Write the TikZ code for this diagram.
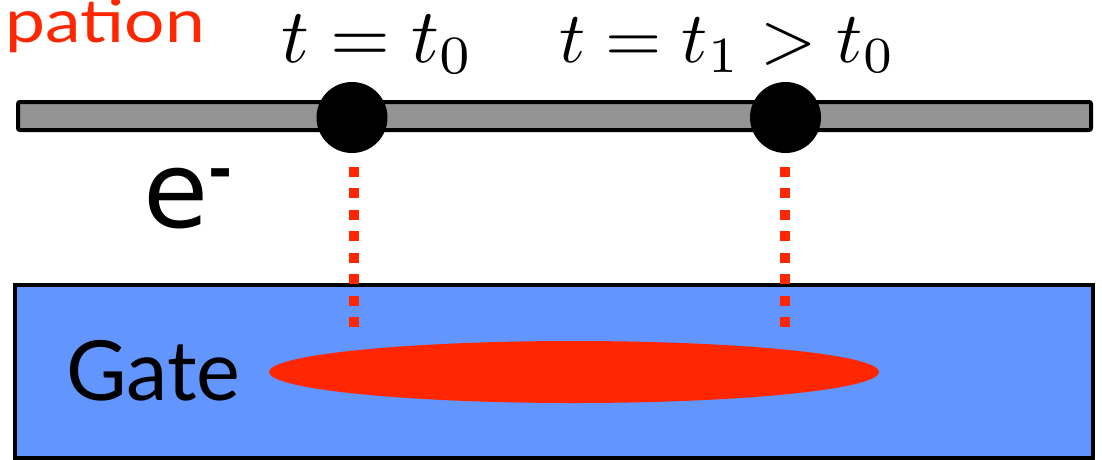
\documentclass[tikz,border=0pt]{standalone}
\usepackage{fontspec}
\setsansfont{Lato}
\newfontfamily\dejavu{DejaVu Sans}
\newfontfamily\dejavub{DejaVu Sans Bold}
\definecolor{hotred}{RGB}{255,38,0}
\definecolor{gatecol}{RGB}{98,149,254}
\definecolor{barcol}{RGB}{147,147,147}
\usetikzlibrary{shapes.geometric}
\tikzset{
  bar/.style={fill=barcol,draw=black,line width=4pt,rounded corners=2pt},
  electron/.style={circle,fill=black,minimum size=71pt,inner sep=0pt},
  dots/.style={draw=hotred,line width=10pt,dash pattern=on 10pt off 11.43pt},
  gatebox/.style={fill=gatecol,draw=black,line width=4.5pt},
  spot/.style={ellipse,fill=hotred,minimum width=610pt,minimum height=62pt,inner sep=0pt},
  lbl/.style={inner sep=0pt,outer sep=0pt},
}
\begin{document}
\begin{tikzpicture}[x=1pt,y=-1pt]
\useasboundingbox (0,0) rectangle (1102,459);
% wire
\draw[bar] (18,102) rectangle (1091,130);
\node[electron] (c0) at (352,117.5) {};
\node[electron] (c1) at (785.5,117.5) {};
% gate
\draw[gatebox] (15,285) rectangle (1093,458.5);
\node[spot] (hot) at (574,372) {};
% dotted projections
\coordinate (d0a) at (354,167);
\coordinate (d0b) at (354,327);
\coordinate (d1a) at (785,167);
\coordinate (d1b) at (785,327);
\draw[dots] (d0a) -- (d0b);
\draw[dots] (d1a) -- (d1b);
% labels
\node[lbl,anchor=base] (t0) at (377.5,62) {\scalebox{7.7}{$t=t_0$}};
\node[lbl,anchor=base] (t1) at (727.5,62) {\scalebox{7.24}{$t=t_1>t_0$}};
\node[lbl,anchor=base east,text=hotred] (title) at (205,42) {\scalebox{1.19}[1]{\fontsize{60}{64}\selectfont\sffamily pation}};
\node[lbl,anchor=base west] (gate) at (66,400.7) {\fontsize{83}{86}\selectfont\sffamily Gate};
\node[lbl,anchor=base west] (el) at (143,227) {\fontsize{106}{110}\selectfont\dejavu e\raisebox{38pt}{\fontsize{58}{60}\selectfont\dejavub -}};
\end{tikzpicture}
\end{document}
